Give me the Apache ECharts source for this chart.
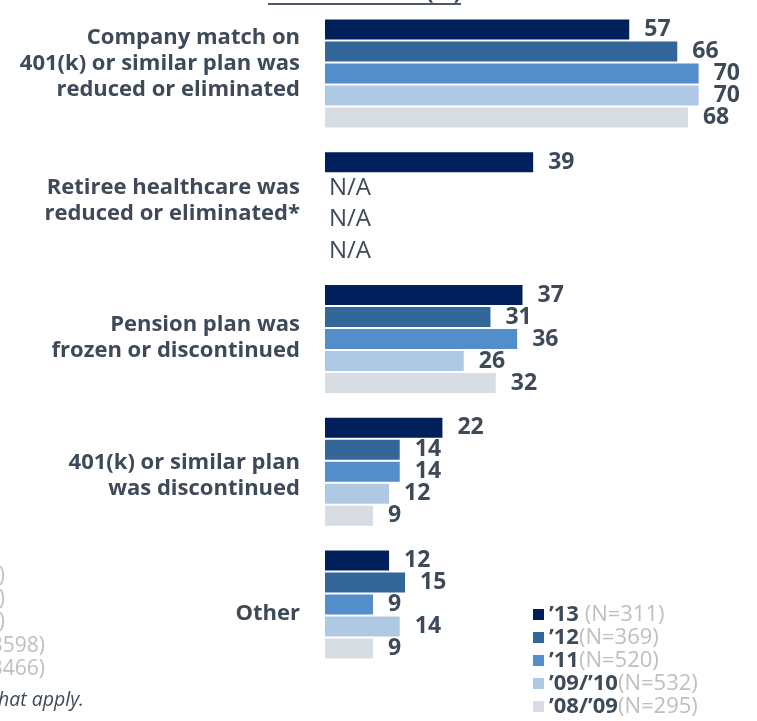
<!DOCTYPE html>
<html>
<head>
<meta charset="utf-8">
<script src="https://cdn.jsdelivr.net/npm/echarts@6/dist/echarts.min.js"></script>
<style>
html,body{margin:0;padding:0;background:#fff;}
#main{width:757px;height:721px;}
</style>
</head>
<body>
<div id="main"></div>
<script>
var categories = [
  "Company match on\n401(k) or similar plan was\nreduced or eliminated",
  "Retiree healthcare was\nreduced or eliminated*",
  "Pension plan was\nfrozen or discontinued",
  "401(k) or similar plan\nwas discontinued",
  "Other"
];
var seriesNames = ["\u201913", "\u201912", "\u201911", "\u201909/\u201910", "\u201908/\u201909"];
var seriesN = ["(N=311)", "(N=369)", "(N=520)", "(N=532)", "(N=295)"];
var v13 = [57, 39, 37, 22, 12];
var v12 = [66, null, 31, 14, 15];
var v11 = [70, null, 36, 14, 9];
var v0910 = [70, null, 26, 12, 14];
var v0809 = [68, null, 32, 9, 9];
var naLabels = ["N/A", "N/A", "N/A"];
var colors = ["#001F5B", "#336699", "#538DCA", "#AFC9E5", "#D8DCE3"];

// layout only: vertical nudge of each category label (px, + = down)
var labelShift = [-10, -5, -1, 4, 9];

var allValues = [v13, v12, v11, v0910, v0809];
var textDark = "#3F4A59";
var FF = '"Open Sans", sans-serif';
var chart = echarts.init(document.getElementById('main'), null, {renderer: 'canvas'});

var series = allValues.map(function (vals, i) {
  return {
    name: seriesNames[i],
    type: 'bar',
    data: vals,
    barWidth: 20,
    barGap: '10%',
    itemStyle: {color: colors[i]},
    label: {
      show: true,
      position: 'right',
      distance: 15,
      color: textDark,
      fontFamily: FF,
      fontWeight: 'bold',
      fontSize: 23
    }
  };
});

// rich styles for category labels, with spacer lines for the nudges
var labelRich = {
  t: {color: textDark, fontFamily: FF, fontWeight: 'bold', fontSize: 22, lineHeight: 26, align: 'right'}
};
labelShift.forEach(function (s, i) {
  labelRich['sp' + i] = {fontSize: 1, lineHeight: Math.max(1, Math.abs(2 * s)), align: 'right'};
});

var legendNameMap = {};
seriesNames.forEach(function (n, i) { legendNameMap[n] = seriesN[i]; });

var graphics = [
  // partially cropped title at top
  {type: 'text', x: 461, y: 4, style: {text: 'Benefits Lost (%)', fill: textDark, font: 'bold 22px "Open Sans"', textAlign: 'right', textVerticalAlign: 'bottom'}},
  {type: 'rect', shape: {x: 268, y: 3, width: 193, height: 2}, style: {fill: '#4E5968'}},
  // N/A texts for missing years
  {type: 'text', x: 329, y: 188, style: {text: naLabels[0], fill: textDark, font: '24px "Open Sans"', textVerticalAlign: 'middle'}},
  {type: 'text', x: 329, y: 219, style: {text: naLabels[1], fill: textDark, font: '24px "Open Sans"', textVerticalAlign: 'middle'}},
  {type: 'text', x: 329, y: 251, style: {text: naLabels[2], fill: textDark, font: '24px "Open Sans"', textVerticalAlign: 'middle'}},
  // cropped legend of a neighbouring chart at bottom-left
  {type: 'text', x: 5, y: 576, style: {text: '(N=1022)', fill: '#BFBFBF', font: '21px "Open Sans"', textAlign: 'right', textVerticalAlign: 'middle'}},
  {type: 'text', x: 5, y: 599, style: {text: '(N=1025)', fill: '#BFBFBF', font: '21px "Open Sans"', textAlign: 'right', textVerticalAlign: 'middle'}},
  {type: 'text', x: 5, y: 622, style: {text: '(N=1010)', fill: '#BFBFBF', font: '21px "Open Sans"', textAlign: 'right', textVerticalAlign: 'middle'}},
  {type: 'text', x: 45, y: 646, style: {text: '(N=3598)', fill: '#BFBFBF', font: '21px "Open Sans"', textAlign: 'right', textVerticalAlign: 'middle'}},
  {type: 'text', x: 45, y: 669, style: {text: '(N=3466)', fill: '#BFBFBF', font: '21px "Open Sans"', textAlign: 'right', textVerticalAlign: 'middle'}},
  {type: 'text', x: 84, y: 700, style: {text: '*Select all that apply.', fill: textDark, font: 'italic 19.5px "Open Sans"', textAlign: 'right', textVerticalAlign: 'middle'}}
];

chart.setOption({
  animation: false,
  color: colors,
  grid: {left: 325, top: 7, height: 664, width: 427, containLabel: false},
  xAxis: {
    type: 'value', min: 0, max: 80, show: false
  },
  yAxis: {
    type: 'category',
    data: categories,
    inverse: true,
    axisLine: {show: false},
    axisTick: {show: false},
    splitLine: {show: false},
    axisLabel: {
      margin: 25,
      color: textDark,
      fontFamily: FF,
      fontWeight: 'bold',
      fontSize: 22,
      lineHeight: 26,
      align: 'right',
      formatter: function (value, index) {
        var lines = value.split('\n').map(function (l) { return '{t|' + l + '}'; });
        var s = labelShift[index];
        if (s < 0) { lines.push('{sp' + index + '| }'); }
        else if (s > 0) { lines.unshift('{sp' + index + '| }'); }
        return lines.join('\n');
      },
      rich: labelRich
    }
  },
  legend: {
    orient: 'vertical',
    left: 533,
    top: 603,
    padding: 0,
    itemWidth: 11,
    itemHeight: 11,
    itemGap: 0,
    icon: 'rect',
    data: seriesNames,
    formatter: function (name) {
      return '{a|' + name + '}' + (name === seriesNames[0] ? '{b| }' : '') + '{b|' + legendNameMap[name] + '}';
    },
    textStyle: {
      lineHeight: 23,
      rich: {
        a: {color: textDark, fontFamily: FF, fontWeight: 'bold', fontSize: 22, lineHeight: 23},
        b: {color: '#BFBFBF', fontFamily: FF, fontSize: 22, lineHeight: 23}
      }
    }
  },
  graphic: graphics,
  series: series
});
</script>
</body>
</html>
